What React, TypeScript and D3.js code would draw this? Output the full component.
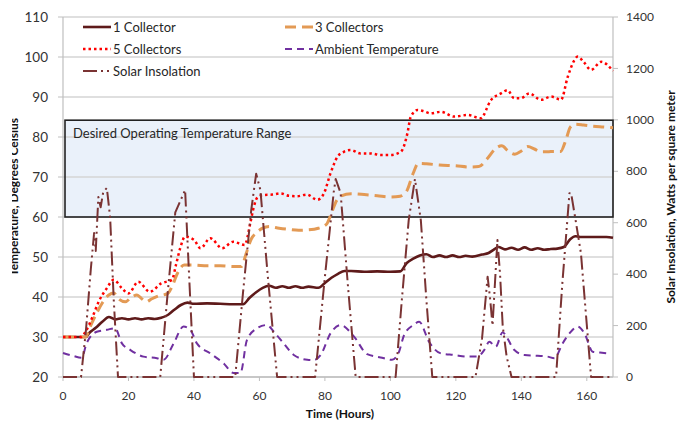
import * as d3 from 'd3';

// hours / temperature (deg C) or insolation (W/m2)
const collector1: [number, number][] = [
  [0, 30], [7, 30], [8, 31], [10, 32.3], [12, 33.8], [14, 35], [16, 34.4], [18, 34.7], [20, 34.4],
  [22, 34.7], [24, 34.4], [26, 34.7], [28, 34.5], [30, 34.8], [32, 35.5], [34, 36.8], [36, 38],
  [38, 38.6], [40, 38.3], [44, 38.4], [48, 38.3], [52, 38.2], [55, 38.2], [57, 39.8], [59, 41.2],
  [61, 42.3], [63, 42.8], [65, 42.3], [67, 42.7], [69, 42.3], [71, 42.7], [73, 42.3], [75, 42.6],
  [78, 42.3], [80, 43.5], [82, 44.8], [84, 45.8], [86, 46.5], [88, 46.5], [92, 46.3], [96, 46.4],
  [100, 46.3], [103, 46.4], [105, 48.5], [107, 49.6], [109, 50.4], [111, 50.7], [113, 50],
  [115, 50.4], [117, 50], [119, 50.4], [121, 50], [123, 50.3], [125, 50.1], [128, 50.6], [130, 51],
  [131.5, 51.8], [133, 52.5], [135, 51.9], [137, 52.3], [139, 51.8], [141, 52.4], [143, 51.8],
  [145, 52.2], [147, 51.8], [149, 52], [151, 52.1], [153, 52.5], [155, 54.5], [156.5, 55.2],
  [158, 55], [160, 55], [163, 55], [166, 55], [168, 54.8],
];

const collectors3: [number, number][] = [
  [0, 30], [7, 30], [8, 32], [10, 35.5], [12, 38.5], [14, 40.5], [15.5, 41], [17, 39.5], [19, 38.8],
  [21, 40], [22.6, 40.5], [24, 39.6], [25.5, 38.8], [27, 39.5], [29, 40.2], [32, 40.9], [33.5, 43],
  [35, 46], [37, 48], [40, 48], [44, 47.8], [48, 47.8], [52, 47.6], [54.5, 47.6], [56, 51],
  [57.5, 54.5], [59, 56], [61, 57.2], [63, 57.6], [66, 57.2], [69, 56.9], [72, 56.7], [75, 56.8],
  [78, 57.2], [80.5, 58.2], [82, 61], [83.5, 64], [85, 65.3], [88, 65.8], [92, 65.6], [96, 65.3],
  [100, 65], [103, 65.2], [105, 66.5], [107, 71], [108.5, 73.4], [111, 73.3], [115, 73], [120, 72.8],
  [124, 72.5], [127, 72.6], [129.5, 74.5], [132, 77], [134, 77.8], [136, 76.5], [138, 75.7],
  [140, 76.5], [142, 77.6], [144, 77], [146, 76.3], [148, 76.3], [150, 76.4], [152, 76.4],
  [153.5, 79], [155, 82.5], [156.5, 83.2], [159, 83], [162, 82.7], [165, 82.5], [168, 82.3],
];

const collectors5: [number, number][] = [
  [0, 30], [5.5, 30], [7, 31.5], [9, 35], [11, 39], [13.4, 42.2], [15.5, 44.3], [18, 42.2], [20, 40.9],
  [23, 43.8], [26.5, 41.3], [30, 43.4], [33.3, 44.3], [34.5, 48], [35.8, 52.2], [37.3, 55.1],
  [40, 54.3], [42, 52.2], [45, 54.7], [48.6, 52.2], [52, 53.8], [55.5, 53], [57.2, 58.4],
  [58.3, 62.6], [59.5, 65], [61.3, 65.5], [64, 65.6], [66.5, 65.9], [69, 65.3], [71.5, 65.2],
  [74.5, 65.6], [77.7, 64.3], [79.7, 65.9], [81.7, 70.9], [83.8, 75], [85.8, 76.3], [87.8, 76.75],
  [90.9, 75.9], [94, 75.9], [97, 75.5], [100.1, 75.5], [103.2, 76.3], [105.2, 80.9], [106.2, 85],
  [108.3, 86.75], [110, 86.5], [112.3, 85.9], [115.4, 86.3], [119.5, 85.1], [123.6, 85.5],
  [127.6, 84.7], [130.7, 89.2], [133.8, 90.9], [135.8, 91.7], [137.8, 89.7], [139.9, 89.7],
  [142.4, 90.9], [146, 89.3], [149.1, 90.1], [152.1, 89.3], [154.2, 95.1], [156.2, 99.2],
  [157.2, 100.1], [159, 98.8], [161.3, 96.8], [164.4, 98.8], [168, 96.5],
];

const ambient: [number, number][] = [
  [0, 26], [3, 25.3], [5.7, 24.8], [7.2, 28.4], [10.3, 31.3], [13.4, 31.8], [15.9, 32.2], [18, 28.4],
  [20.5, 26.8], [24.6, 25.1], [28.7, 24.7], [30.7, 24.3], [33.8, 28.4], [36.8, 32.6], [38.9, 31.8],
  [40.9, 28.4], [45, 25.9], [49.1, 23.4], [52.1, 21], [54.2, 21], [56.2, 29.3], [59.3, 32.2],
  [62.3, 33], [64.4, 31.3], [67.4, 28.4], [70.5, 25.5], [74.6, 24.3], [76.5, 24.2], [78.7, 25.5],
  [81.7, 30.9], [84.8, 33], [88.9, 30.1], [92.9, 25.7], [97, 24.9], [100.5, 24.3], [102.5, 26],
  [104.2, 30.5], [107, 33], [108.8, 33.8], [111.8, 28.8], [115.4, 25.9], [119.5, 25.5],
  [123.6, 25.1], [126.6, 25.1], [128.7, 26.8], [130.2, 28.8], [132.2, 27.6], [134.3, 31.2],
  [135.5, 30], [137.8, 26.8], [141, 25.5], [145, 25.3], [148, 25.1], [150.1, 24.7], [152.6, 28.4],
  [154.7, 30.9], [157.2, 32.6], [159.3, 30.9], [161.8, 26.3], [164, 26.1], [166.4, 25.9],
];

const solar: [number, number][] = [
  [0, 0], [5.5, 0], [7, 180], [8.5, 420], [9.5, 560], [10, 490], [10.8, 700], [11.5, 660],
  [12.3, 720], [13.4, 735], [14.4, 620], [15.5, 300], [16.8, 0],
  [29.7, 0], [32, 330], [34.3, 640], [37.3, 727], [38.5, 400], [40, 0],
  [52.6, 0], [55, 330], [57.5, 650], [59, 790], [60.3, 727], [62.5, 400], [65.4, 0],
  [77, 0], [80, 390], [82.7, 720], [83.3, 770], [84.8, 715], [87, 360], [89.4, 0],
  [101.6, 0], [103.5, 300], [105.6, 610], [107.5, 770], [109.3, 610], [111, 300], [112.8, 0],
  [126, 0], [128, 150], [129.7, 390], [130.5, 300], [131.2, 200], [132.7, 533], [133.5, 400],
  [134.3, 200], [135.5, 80], [137, 0],
  [150.6, 0], [152.5, 360], [154.7, 715], [155.2, 715], [156.7, 600], [158.2, 482], [161.3, 0],
  [168, 0],
];

const hourTicks = [0, 20, 40, 60, 80, 100, 120, 140, 160];
const tempTicks = [20, 30, 40, 50, 60, 70, 80, 90, 100, 110];
const wattTicks = [0, 200, 400, 600, 800, 1000, 1200, 1400];
const desiredRange = [60, 84.2];

const W = 682;
const H = 424;
const margin = { top: 17, right: 69, bottom: 47, left: 63 };
const font = 'Lato, "Open Sans", sans-serif';

export default function App() {
  const x = d3.scaleLinear().domain([0, 168]).range([margin.left, W - margin.right]);
  const yT = d3.scaleLinear().domain([20, 110]).range([H - margin.bottom, margin.top]);
  const yW = d3.scaleLinear().domain([0, 1400]).range([H - margin.bottom, margin.top]);

  const smooth = d3.line<[number, number]>().x(d => x(d[0])).y(d => yT(d[1])).curve(d3.curveMonotoneX);
  const solarLine = d3.line<[number, number]>().x(d => x(d[0])).y(d => yW(d[1]));

  const x0 = x(0);
  const x1 = x(168);
  const yBottom = yT(20);

  const series = [
    { name: '1 Collector', d: smooth(collector1), color: '#5E1A1A', width: 2.6, dash: 'none', cap: 'butt' },
    { name: '3 Collectors', d: smooth(collectors3), color: '#E39A55', width: 3, dash: '11,6', cap: 'butt' },
    { name: '5 Collectors', d: smooth(collectors5), color: '#FF0000', width: 2.5, dash: '2.5,3', cap: 'butt' },
    { name: 'Ambient Temperature', d: smooth(ambient), color: '#7030A0', width: 2, dash: '7,5', cap: 'butt' },
    { name: 'Solar Insolation', d: solarLine(solar), color: '#7A3333', width: 2, dash: '14,4,2,4,2,4', cap: 'butt' },
  ];

  // legend: two columns, three rows
  const legendPos = [
    [83, 27], [285, 27], [83, 49], [285, 49], [83, 71],
  ];

  return (
    <svg width={W} height={H} style={{ position: 'absolute', left: 0, top: 0, background: '#fff' }} fontFamily={font}>
      <defs>
        <clipPath id="leftLabelClip">
          <rect x={12} y={0} width={30} height={H} />
        </clipPath>
      </defs>

      {/* desired range fill */}
      <rect x={x0 + 2} y={yT(desiredRange[1])} width={x1 - x0 - 2} height={yT(desiredRange[0]) - yT(desiredRange[1])}
        fill="#EAF1FA" />

      {/* gridlines with outward ticks on the left */}
      {tempTicks.map(t => (
        <line key={t} x1={x0 - 5} x2={x1} y1={yT(t)} y2={yT(t)} stroke="#D4D4D4" strokeWidth={1.5} />
      ))}

      {/* axes */}
      <line x1={x0} x2={x0} y1={margin.top} y2={yBottom} stroke="#BFBFBF" strokeWidth={1.2} />
      <line x1={x1} x2={x1} y1={margin.top} y2={yBottom} stroke="#BFBFBF" strokeWidth={1.2} />
      <line x1={x0} x2={x1} y1={yBottom} y2={yBottom} stroke="#BFBFBF" strokeWidth={1.5} />
      {hourTicks.map(h => (
        <line key={h} x1={x(h)} x2={x(h)} y1={yBottom} y2={yBottom + 4} stroke="#BFBFBF" />
      ))}
      {wattTicks.map(w => (
        <line key={w} x1={x1} x2={x1 + 5} y1={yW(w)} y2={yW(w)} stroke="#BFBFBF" />
      ))}

      {/* desired range outline + label */}
      <rect x={x0 + 2} y={yT(desiredRange[1])} width={x1 - x0 - 2} height={yT(desiredRange[0]) - yT(desiredRange[1])}
        fill="none" stroke="#222" strokeWidth={1.6} />
      <text x={73} y={138} fontSize={13} fill="#262626">Desired Operating Temperature Range</text>

      {/* tick labels */}
      {tempTicks.map(t => (
        <text key={t} x={48} y={yT(t)} dy="0.35em" textAnchor="end" fontSize={13.5} fill="#333">{t}</text>
      ))}
      {wattTicks.map(w => (
        <text key={w} x={626} y={yW(w)} dy="0.35em" fontSize={12} fill="#333">{w}</text>
      ))}
      {hourTicks.map(h => (
        <text key={h} x={x(h)} y={400} textAnchor="middle" fontSize={12} fill="#333">{h}</text>
      ))}

      {/* series */}
      {series.map(s => (
        <path key={s.name} d={s.d || ''} fill="none" stroke={s.color} strokeWidth={s.width}
          strokeDasharray={s.dash} strokeLinecap={s.cap as any} strokeLinejoin="round" />
      ))}

      {/* legend */}
      {series.map((s, i) => {
        const [lx, ly] = legendPos[i];
        return (
          <g key={s.name} transform={`translate(${lx},${ly})`}>
            <line x1={0} x2={28} y1={0} y2={0} stroke={s.color} strokeWidth={s.width}
              strokeDasharray={s.dash} />
            <text x={30} y={0} dy="0.35em" fontSize={13} fill="#262626">{s.name}</text>
          </g>
        );
      })}

      {/* axis titles */}
      <text x={340} y={418} textAnchor="middle" fontSize={12} fontWeight="bold" fill="#111">Time (Hours)</text>
      <g clipPath="url(#leftLabelClip)">
        <text transform={`translate(18,197) rotate(-90)`} textAnchor="middle" fontSize={12} fontWeight="bold" fill="#111">
          Temperature, Degrees Celsius
        </text>
      </g>
      <text transform={`translate(675,197) rotate(-90)`} textAnchor="middle" fontSize={12} fontWeight="bold" fill="#111">
        Solar Insolation, Watts per square meter
      </text>
    </svg>
  );
}
